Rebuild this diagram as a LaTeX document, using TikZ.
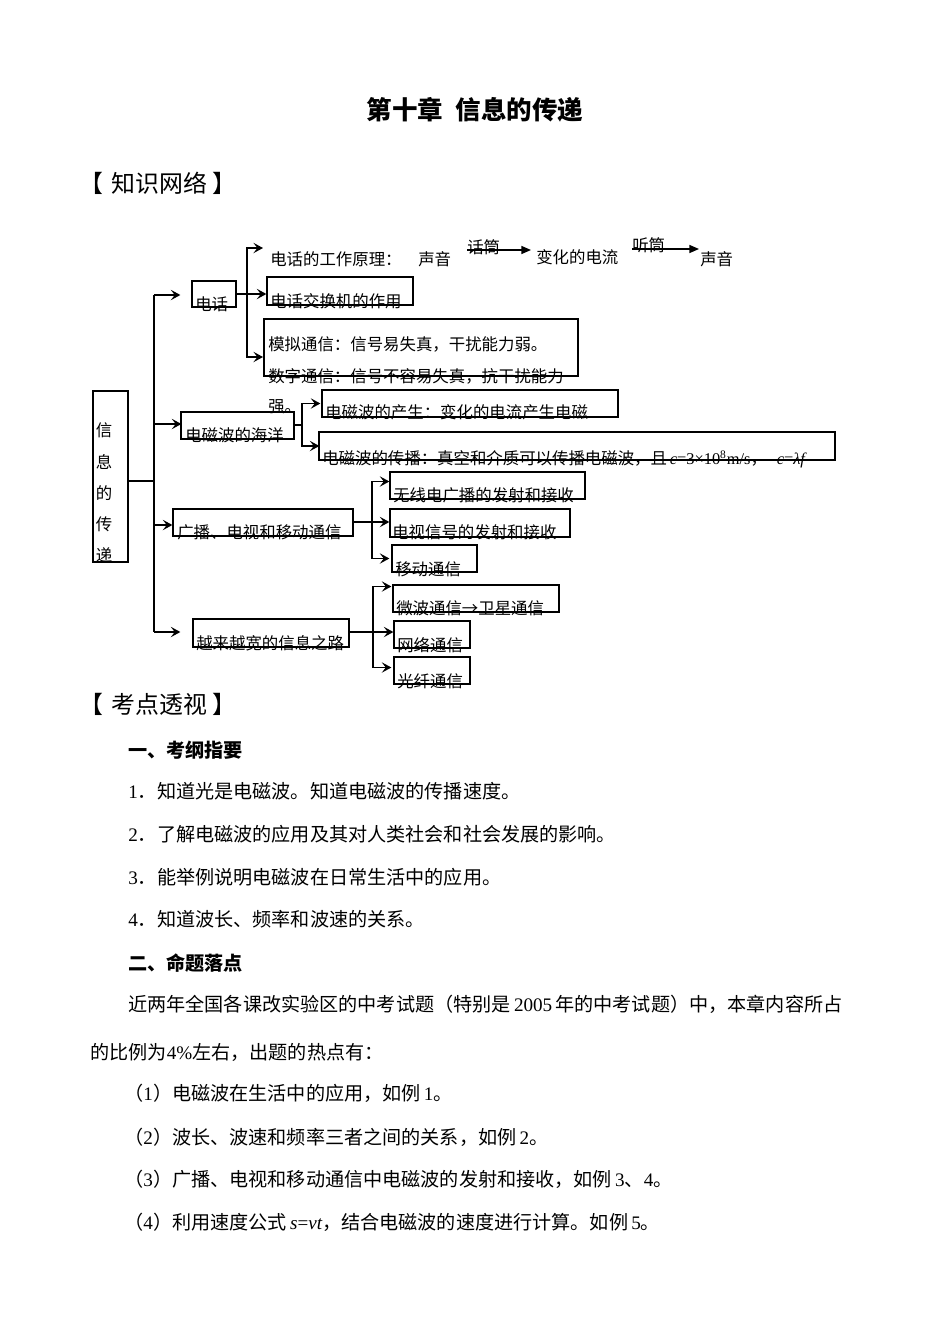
\documentclass[tikz,border=0pt]{standalone}
\usepackage{fontspec}
\setmainfont{Noto Sans CJK SC}
\newfontfamily\latf{Liberation Serif}
\usetikzlibrary{arrows.meta,fit,calc}
\newcommand{\dg}{\fontsize{10.3pt}{12pt}\selectfont}
\newcommand{\bd}{\fontsize{12pt}{14pt}\selectfont}
\newcommand{\Lt}[1]{{\latf #1}}
\newcommand{\Li}[1]{{\latf\itshape #1}}
\begin{document}
\begin{tikzpicture}[x=0.6274pt,y=-0.6274pt,
  box/.style={draw, line width=0.8pt, inner sep=0pt},
  lbl/.style={anchor=west, inner sep=0pt, text height=9.1pt, text depth=1.2pt, font=\dg},
  body/.style={anchor=west, inner sep=0pt, text height=10.6pt, text depth=1.4pt, font=\bd},
  ln/.style={line width=0.8pt},
  arr/.style={line width=0.8pt, -{Stealth[length=6pt,width=6.5pt,inset=2.5pt]}},
  tri/.style={line width=0.8pt, -{Triangle[length=6pt,width=5pt]}}]
\useasboundingbox (0,0) rectangle (950,1342);
\fill[white] (0,0) rectangle (950,1342);

% ---------- title and headers ----------
\node[inner sep=0pt, font=\fontsize{16pt}{18pt}\selectfont\bfseries] (title) at (475,110) {第十章\hspace{0.5em}信息的传递};
\node[anchor=west, inner sep=0pt, font=\fontsize{15pt}{17pt}\selectfont] (h1) at (79,183) {【\hspace{0.35em}知识网络\hspace{0.2em}】};
\node[anchor=west, inner sep=0pt, font=\fontsize{15pt}{17pt}\selectfont] (h2) at (79,704) {【\hspace{0.35em}考点透视\hspace{0.2em}】};

% ---------- boxes ----------
\node[box, fit={(93,391)(128,562)}] (root) {};
\node[box, fit={(192,281)(236,307)}] (b1) {};
\node[box, fit={(181,412)(294,439)}] (b2) {};
\node[box, fit={(173,509)(353,536)}] (b3) {};
\node[box, fit={(193,619)(349,647)}] (b4) {};
\node[box, fit={(267,277)(413,305)}] (c1) {};
\node[box, fit={(264,319)(578,376)}] (c2) {};
\node[box, fit={(322,390)(618,417)}] (d1) {};
\node[box, fit={(319,432)(835,460)}] (d2) {};
\node[box, fit={(390,472)(585,499)}] (e1) {};
\node[box, fit={(390,509)(570,537)}] (e2) {};
\node[box, fit={(392,545)(477,572)}] (e3) {};
\node[box, fit={(393,585)(559,612)}] (f1) {};
\node[box, fit={(394,621)(470,648)}] (f2) {};
\node[box, fit={(394,657)(470,684)}] (f3) {};

% ---------- texts in the diagram ----------
\node[inner sep=0pt, align=center, font=\fontsize{10.3pt}{19.6pt}\selectfont] (roottxt) at (104,493) {信\\息\\的\\传\\递};
\node[lbl] (tb1) at (195,304) {电话};
\node[lbl] (tb2) at (185,435) {电磁波的海洋};
\node[lbl] (tb3) at (177,532) {广播、电视和移动通信};
\node[lbl] (tb4) at (196,643) {越来越宽的信息之路};

\node[lbl] (t0) at (270,259) {电话的工作原理：};
\node[lbl] (t0a) at (418,259) {声音};
\node[lbl] (lh1) at (467,247) {话筒};
\node[lbl] (t0b) at (536,257) {变化的电流};
\node[lbl] (lh2) at (632,245) {听筒};
\node[lbl] (t0c) at (700,259) {声音};

\node[lbl] (tc1) at (270,301) {电话交换机的作用};
\node[lbl] (tc2a) at (268,344) {模拟通信：信号易失真，干扰能力弱。};
\node[lbl] (tc2b) at (268,376) {数字通信：信号不容易失真，抗干扰能力};
\node[lbl] (tc2c) at (268,406) {强。};
\node[lbl] (td1) at (325,412) {电磁波的产生：变化的电流产生电磁};
\node[lbl] (td2) at (322,458) {电磁波的传播：真空和介质可以传播电磁波，且\,\Li{c}\Lt{=3×10\textsuperscript{8}m/s}，\hspace{0.6em}\Li{c}\Lt{=}\Li{λf}};
\node[lbl] (te1) at (393,495) {无线电广播的发射和接收};
\node[lbl] (te2) at (392,532) {电视信号的发射和接收};
\node[lbl] (te3) at (395,569) {移动通信};
\node[lbl] (tf1) at (396,608) {微波通信→卫星通信};
\node[lbl] (tf2) at (397,645) {网络通信};
\node[lbl] (tf3) at (397,681) {光纤通信};

% ---------- connectors ----------
\coordinate (tk1) at (154,295);
\coordinate (tk2) at (154,424);
\coordinate (tkm) at (154,481);
\coordinate (tk3) at (154,525);
\coordinate (tk4) at (154,632);
\draw[ln] (root.east |- tkm) -- (tkm);
\draw[ln] (tk1) -- (tk4);
\draw[arr] (tk1) -- ($(b1.west |- tk1)+(-11,0)$);
\draw[arr] (tk2) -- ($(b2.west |- tk2)+(1,0)$);
\draw[arr] (tk3) -- ($(b3.west |- tk3)+(0,0)$);
\draw[arr] (tk4) -- ($(b4.west |- tk4)+(-12,0)$);

% telephone branch
\coordinate (j1) at (247,294);
\coordinate (a11) at (263,248);
\coordinate (a13) at (263,357);
\draw[ln] (b1.east |- j1) -- (j1);
\draw[arr] (j1) |- (a11);
\draw[arr] (j1) -- (c1.west |- j1);
\draw[arr] (j1) |- (a13);

% em-wave branch
\coordinate (j2) at (302,425);
\draw[ln] (b2.east |- j2) -- (j2);
\draw[arr] (j2) |- ($(d1.west)+(-1,0)$);
\draw[arr] (j2) |- ($(d2.west)+(1,0)$);

% broadcast branch
\coordinate (j3) at (372,522);
\draw[ln] (b3.east |- j3) -- (j3);
\draw[arr] (j3) |- ($(e1.west)+(0,-4)$);
\draw[arr] (j3) -- (e2.west |- j3);
\draw[arr] (j3) |- ($(e3.west)+(-2,0)$);

% information highway branch
\coordinate (j4) at (373,632);
\draw[ln] (b4.east |- j4) -- (j4);
\draw[arr] (j4) |- ($(f1.west)+(-1,-12)$);
\draw[arr] (j4) -- (f2.west |- j4);
\draw[arr] (j4) |- ($(f3.west)+(-2,-3)$);

% telephone principle arrows
\coordinate (m1) at (467,250);
\coordinate (m2) at (531,250);
\coordinate (m3) at (632,249);
\coordinate (m4) at (699,249);
\draw[tri] (m1) -- (m2);
\draw[tri] (m3) -- (m4);

% ---------- body text ----------
\node[body, font=\bd\bfseries] (s1) at (128,750) {一、考纲指要};
\node[body] (p1) at (128,791) {\Lt{1}．知道光是电磁波。知道电磁波的传播速度。};
\node[body] (p2) at (128,834) {\Lt{2}．了解电磁波的应用及其对人类社会和社会发展的影响。};
\node[body] (p3) at (128,877) {\Lt{3}．能举例说明电磁波在日常生活中的应用。};
\node[body] (p4) at (128,919) {\Lt{4}．知道波长、频率和波速的关系。};
\node[body, font=\bd\bfseries] (s2) at (128,963) {二、命题落点};
\node[body] (q0) at (128,1004) {近两年全国各课改实验区的中考试题（特别是\,\Lt{2005}\,年的中考试题）中，本章内容所占};
\node[body] (q0b) at (90,1052) {的比例为\Lt{4\%}左右，出题的热点有：};
\node[body] (q1) at (124,1093) {（\Lt{1}）电磁波在生活中的应用，如例\,\Lt{1}。};
\node[body] (q2) at (124,1137) {（\Lt{2}）波长、波速和频率三者之间的关系，如例\,\Lt{2}。};
\node[body] (q3) at (124,1179) {（\Lt{3}）广播、电视和移动通信中电磁波的发射和接收，如例\,\Lt{3}、\Lt{4}。};
\node[body] (q4) at (124,1222) {（\Lt{4}）利用速度公式\,\Li{s}\Lt{=}\Li{vt}，结合电磁波的速度进行计算。如例\,\Lt{5}。};
\end{tikzpicture}
\end{document}
